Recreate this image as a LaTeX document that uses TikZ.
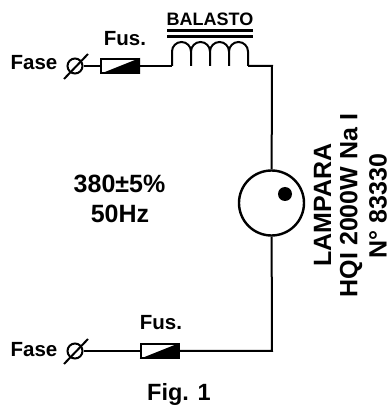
\documentclass[tikz,border=0pt]{standalone}
\usepackage{fontspec}
\setmainfont{Liberation Sans}
\tikzset{
  wire/.style={line width=2pt},
  lbl/.style={inner sep=0pt,font=\bfseries\fontsize{20.5}{20.5}\selectfont},
  bigtxt/.style={inner sep=0pt,font=\bfseries\fontsize{25}{25}\selectfont},
  vtxt/.style={bigtxt,rotate=90},
  borne/.style={draw,circle,line width=2pt,minimum size=15pt,inner sep=0pt},
  fuse/.style={draw,line width=2pt,minimum width=38pt,minimum height=14pt,inner sep=0pt}
}
\begin{document}
\begin{tikzpicture}[x=1pt,y=1pt]
  \useasboundingbox (0,0) rectangle (391,408);
  % terminals and fuses
  \node [borne] (faseA) at (75,342) {};
  \node [borne] (faseB) at (75,57)  {};
  \node [fuse]  (fusA)  at (120,342) {};
  \node [fuse]  (fusB)  at (159.5,57) {};
  \foreach \f in {faseA,faseB}
    \draw [wire] ([shift={(-11,-13)}]\f.center) -- ([shift={(13,12)}]\f.center);
  \foreach \f in {fusA,fusB}
    \fill (\f.south west) -- (\f.north east) -- (\f.south east) -- cycle;
  % lamp
  \node [draw,circle,line width=2.4pt,minimum size=65pt,inner sep=0pt] (lamp) at (271.5,205) {};
  \fill (285,214) circle [radius=7];
  % ballast
  \coordinate (coilin)  at (172,342);
  \coordinate (coilout) at (248,342);
  \coordinate (corner)  at (272,342);
  \coordinate (cornerb) at (272,57);
  \draw [wire] (coilin) -- ++(0,14.5)
    arc [start angle=180,end angle=0,radius=9.5] -- ++(0,-14.5) ++(0,14.5)
    arc [start angle=180,end angle=0,radius=9.5] -- ++(0,-14.5) ++(0,14.5)
    arc [start angle=180,end angle=0,radius=9.5] -- ++(0,-14.5) ++(0,14.5)
    arc [start angle=180,end angle=0,radius=9.5] -- (coilout);
  \draw [line width=3pt] (167,377) -- (253,377);
  \draw [line width=3pt] (167,371) -- (253,371);
  % wiring
  \draw [wire] (faseA) -- (fusA);
  \draw [wire] (fusA) -- (coilin);
  \draw [wire] (coilout) -- (corner) -- (lamp);
  \draw [wire] (lamp) -- (cornerb) -- (fusB);
  \draw [wire] (fusB) -- (faseB);
  % labels
  \node [lbl] (tfaseA) at (34,345) {Fase};
  \node [lbl] (tfaseB) at (34,58)  {Fase};
  \node [lbl] (tfusA)  at (125,369) {Fus.};
  \node [lbl] (tfusB)  at (161,85)  {Fus.};
  \node [inner sep=0pt,font=\bfseries\fontsize{18}{18}\selectfont] (balasto) at (210,389) {BALASTO};
  \node [bigtxt] (volt) at (119.5,224.5) {380±5\%};
  \node [bigtxt] (freq) at (120,194) {50Hz};
  \node [vtxt] (lampara) at (322.5,203) {LAMPARA};
  \node [vtxt] (modelo)  at (351,202.5) {HQI 2000W Na I};
  \node [vtxt] (numero)  at (378,202) {N° 83330};
  \node [inner sep=0pt,font=\bfseries\fontsize{23.5}{23.5}\selectfont] (fig) at (179,14) {Fig. 1};
\end{tikzpicture}
\end{document}
